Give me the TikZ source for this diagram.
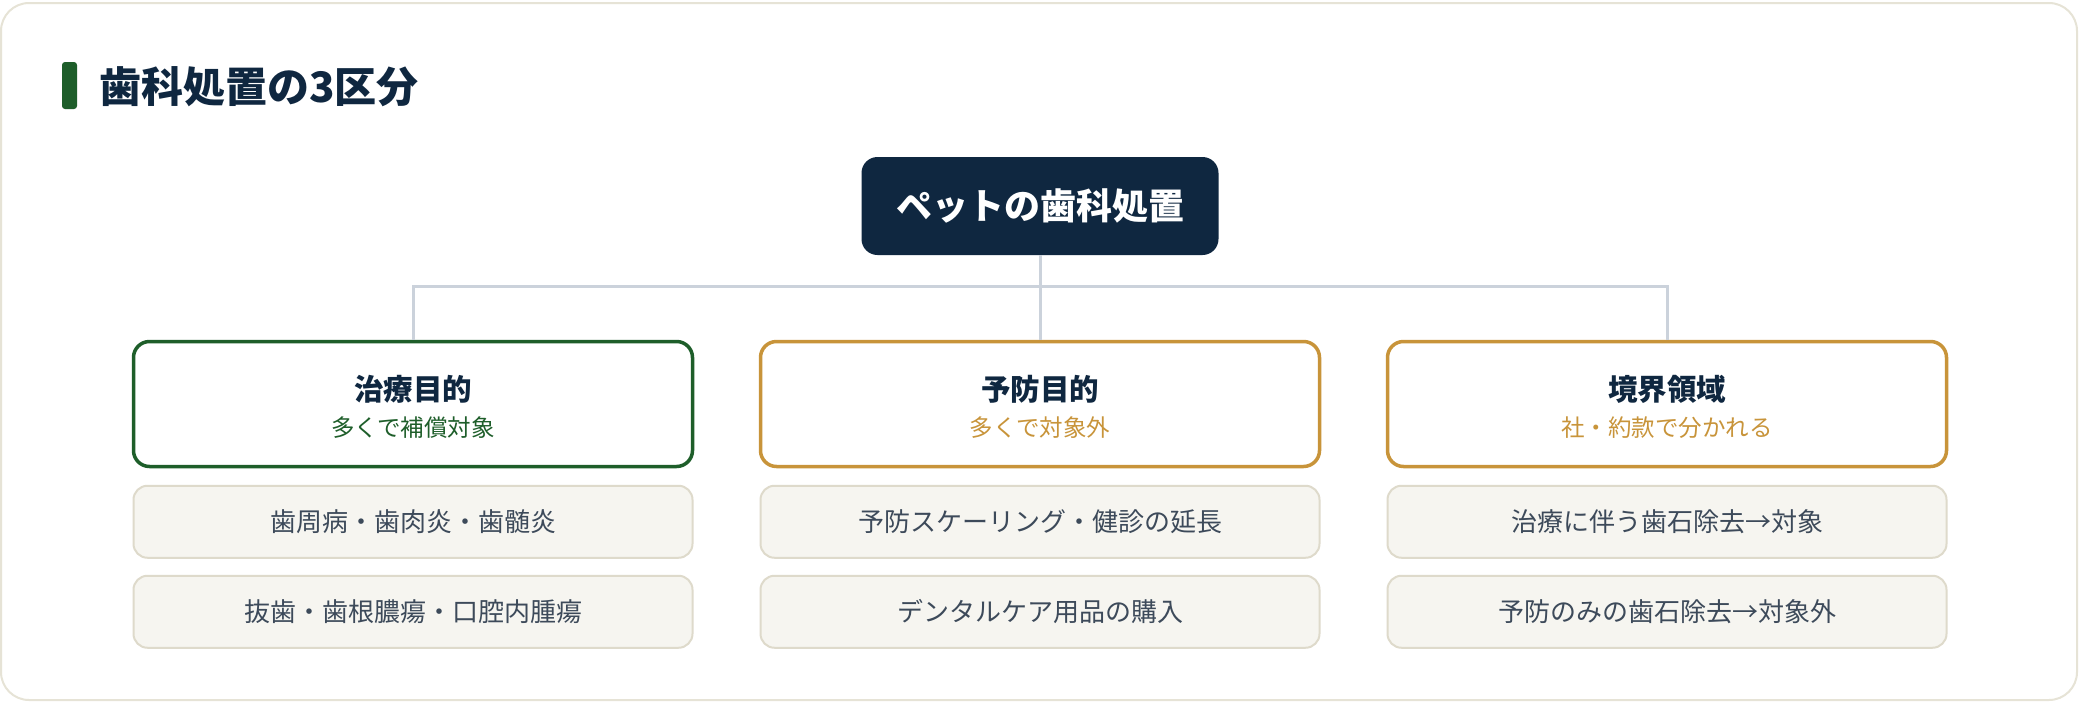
\documentclass[tikz,border=0pt]{standalone}
\usepackage{fontspec}
\setmainfont{Noto Sans CJK JP}
\usetikzlibrary{positioning}
\definecolor{navy}{HTML}{0F2740}
\definecolor{leaf}{HTML}{1E5E2A}
\definecolor{gold}{HTML}{C8943A}
\definecolor{wire}{HTML}{CBD2DB}
\definecolor{frame}{HTML}{E6E3D6}
\definecolor{itemfill}{HTML}{F6F5F0}
\definecolor{itemline}{HTML}{DEDACB}
\definecolor{itemtext}{HTML}{3D4A5A}
\tikzset{
  catbox/.style={draw=#1, line width=3.5pt, fill=white, rounded corners=16pt,
    minimum width=559pt, minimum height=125pt},
  cattitle/.style={text=navy, font=\bfseries\fontsize{29.5}{33}\selectfont},
  catsub/.style={text=#1, font=\fontsize{23.5}{27}\selectfont},
  itembox/.style={draw=itemline, line width=2pt, fill=itemfill, rounded corners=14pt,
    minimum width=559pt, minimum height=72pt, text=itemtext,
    font=\fontsize{26}{30}\selectfont},
  wireline/.style={draw=wire, line width=3pt}
}
\begin{document}
\begin{tikzpicture}[x=1pt, y=-1pt]
  \useasboundingbox (0,0) rectangle (2080,702);
  \draw[frame, line width=2pt, fill=white, rounded corners=28pt] (1,3) rectangle (2077,700);
  % heading
  \fill[leaf, rounded corners=3pt] (62,62) rectangle (77,109);
  \node[anchor=west, inner sep=0pt, text=navy, font=\bfseries\fontsize{42}{46}\selectfont]
    (head) at (99,87) {歯科処置の3区分};
  % root
  \node[fill=navy, rounded corners=16pt, minimum width=357pt, minimum height=98pt,
    text=white, font=\bfseries\fontsize{36}{40}\selectfont] (r0) at (1040,206) {ペットの歯科処置};
  % categories
  \node[catbox=leaf] (c1) at (413,404) {};
  \node[catbox=gold] (c2) at (1040,404) {};
  \node[catbox=gold] (c3) at (1667,404) {};
  \node[cattitle] (t1) at ([yshift=15pt]c1.center) {治療目的};
  \node[catsub=leaf] (s1) at ([yshift=-24pt]c1.center) {多くで補償対象};
  \node[cattitle] (t2) at ([yshift=15pt]c2.center) {予防目的};
  \node[catsub=gold] (s2) at ([yshift=-24pt]c2.center) {多くで対象外};
  \node[cattitle] (t3) at ([yshift=15pt]c3.center) {境界領域};
  \node[catsub=gold] (s3) at ([yshift=-24pt]c3.center) {社・約款で分かれる};
  % items
  \node[itembox, below=16.5pt of c1] (i11) {歯周病・歯肉炎・歯髄炎};
  \node[itembox, below=16pt of i11] (i12) {抜歯・歯根膿瘍・口腔内腫瘍};
  \node[itembox, below=16.5pt of c2] (i21) {予防スケーリング・健診の延長};
  \node[itembox, below=16pt of i21] (i22) {デンタルケア用品の購入};
  \node[itembox, below=16.5pt of c3] (i31) {治療に伴う歯石除去→対象};
  \node[itembox, below=16pt of i31] (i32) {予防のみの歯石除去→対象外};
  % connectors
  \coordinate (hub) at (1040,286);
  \begin{scope}[wireline]
    \draw (r0.south) -- (hub);
    \draw (hub) -| (c1.north);
    \draw (hub) -- (c2.north);
    \draw (hub) -| (c3.north);
  \end{scope}
\end{tikzpicture}
\end{document}
